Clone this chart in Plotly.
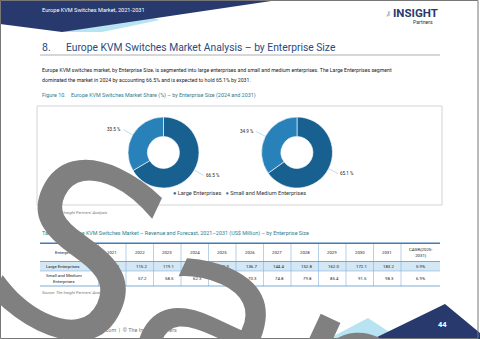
import math
import plotly.graph_objects as go

W, H = 480, 339

# ---------------- data ----------------
segments = ["Large Enterprises", "Small and Medium Enterprises"]
share_2024 = [66.5, 33.5]
share_2031 = [65.1, 34.9]
seg_colors = ["#18608F", "#2882B9"]

years = ["2021", "2022", "2023", "2024", "2025", "2026", "2027", "2028", "2029", "2030", "2031"]
large_rev = [112.3, 115.2, 119.1, 123.7, 129.9, 136.7, 144.4, 152.8, 162.0, 172.1, 183.2]
sme_rev = [55.9, 57.2, 58.5, 62.3, 65.9, 70.3, 74.8, 79.8, 85.4, 91.5, 98.3]
cagr = ["5.9%", "6.9%"]
row_labels = ["Large Enterprises", "Small and Medium<br>Enterprises"]


def X(p):
    return p / W


def Y(p):
    return 1 - p / H


fig = go.Figure()
shapes = []
ann = []


def text(x, y, s, size, color="#222222", family="Roboto", anchor="left", **kw):
    ann.append(dict(x=X(x), y=Y(y), xref="paper", yref="paper", text=s, showarrow=False,
                    xanchor=anchor, yanchor="middle",
                    font=dict(size=size, color=color, family=family), **kw))


def poly(pts, color):
    d = "M " + " L ".join(f"{X(a):.5f},{Y(b):.5f}" for a, b in pts) + " Z"
    shapes.append(dict(type="path", path=d, xref="paper", yref="paper",
                       fillcolor=color, line=dict(width=0), layer="below"))


def hline(x0, x1, y, color, width):
    shapes.append(dict(type="line", xref="paper", yref="paper", x0=X(x0), x1=X(x1), y0=Y(y), y1=Y(y),
                       line=dict(color=color, width=width)))


def vline(x, y0, y1, color, width):
    shapes.append(dict(type="line", xref="paper", yref="paper", x0=X(x), x1=X(x), y0=Y(y0), y1=Y(y1),
                       line=dict(color=color, width=width)))


# header graphics
poly([(60, 32), (102, 32), (160, 20), (150, 17)], "#B7E3F2")
poly([(0, 0), (278, 0), (62, 32), (0, 24)], "#283A6D")
text(40, 10, "Europe KVM Switches Market, 2021-2031", 5.6, "#FFFFFF")

# logo
text(389, 14, "The", 3.6, "#283A6D", textangle=-90, anchor="center")
text(391, 13, "<b>INSIGHT</b>", 11.5, "#283A6D", family="Roboto")
text(411, 21.5, "Partners", 5.2, "#333333")

# heading
text(40, 47, "8.", 10.5, "#2A4A80")
text(64, 47, "Europe KVM Switches Market Analysis – by Enterprise Size", 10.3, "#2A4A80")
hline(40, 440, 55, "#9A9A9A", 0.8)

text(40, 70, "Europe KVM switches market, by Enterprise Size, is segmented into large enterprises and small and medium enterprises. The Large Enterprises segment",
     5.2, "#222222")
text(40, 79.5, "dominated the market in 2024 by accounting 66.5% and is expected to hold 65.1% by 2031.", 5.2, "#222222")

text(40, 95, "Figure 10.    Europe KVM Switches Market Share (%) – by Enterprise Size (2024 and 2031)", 5.4, "#2E7D91")

# chart box
shapes.append(dict(type="rect", xref="paper", yref="paper", x0=X(37), x1=X(442), y0=Y(205), y1=Y(106),
                   line=dict(color="#D4D4D4", width=1), fillcolor="rgba(0,0,0,0)", layer="below"))

# donuts
R = 35.5
donuts = [(163.5, 152.5, share_2024), (297.0, 152.5, share_2031)]
for cx, cy, vals in donuts:
    fig.add_trace(go.Pie(labels=segments, values=vals, hole=0.45, sort=False, direction="clockwise",
                         rotation=0, marker=dict(colors=seg_colors, line=dict(color="#FFFFFF", width=0.6)),
                         textinfo="none", hoverinfo="label+value", showlegend=False,
                         domain=dict(x=[X(cx - R), X(cx + R)], y=[Y(cy + R), Y(cy - R)])))
    tot = sum(vals)
    acc = 0
    for v in vals:
        mid = (acc + v / 2) / tot * 2 * math.pi
        acc += v
        sx, sy = math.sin(mid), -math.cos(mid)
        hx, hy = cx + R * 1.0 * sx, cy + R * 1.0 * sy
        tx, ty = cx + R * 1.3 * sx, cy + R * 1.3 * sy
        ann.append(dict(x=X(hx), y=Y(hy), xref="paper", yref="paper", text=f"{v:.1f} %",
                        showarrow=True, arrowhead=0, arrowwidth=0.5, arrowcolor="#7FB6DD",
                        ax=tx - hx, ay=ty - hy, xanchor="right" if sx < 0 else "left", yanchor="middle",
                        font=dict(size=4.6, color="#222222", family="Roboto")))

legend_txt = (f"<span style='color:{seg_colors[0]}'>●</span> {segments[0]}   "
              f"<span style='color:{seg_colors[1]}'>●</span> {segments[1]}")
text(170.5, 193, legend_txt, 5.6, "#333333")

text(40, 212.5, "<i>Source: The Insight Partners' Analysis</i>", 4.0, "#777777")

text(40, 233, "Table 59.   Europe KVM Switches Market – Revenue and Forecast, 2021–2031 (US$ Million) – by Enterprise Size",
     5.4, "#2E7D91")

# ---------------- table (grid built from the data arrays) ----------------
tx0 = 40.0
col_w = [58.5] + [27.5] * len(years) + [39.0]
edges = [tx0]
for w_ in col_w:
    edges.append(edges[-1] + w_)
row_y = [243.3, 261.5, 271.0, 286.0]   # header top, header bottom, row1 bottom, row2 bottom
line_c = "#86B3DC"
shapes.append(dict(type="rect", xref="paper", yref="paper", x0=X(edges[0]), x1=X(edges[-1]),
                   y0=Y(row_y[2]), y1=Y(row_y[1]), fillcolor="#D3E7F5", line=dict(width=0), layer="below"))
for e in edges[1:-1]:
    vline(e, row_y[0], row_y[3], line_c, 0.6)
hline(edges[0], edges[-1], row_y[1], "#5E95C9", 0.8)
hline(edges[0], edges[-1], row_y[2], line_c, 0.6)
hline(edges[0], edges[-1], row_y[3], "#5E95C9", 0.8)
hline(edges[0], edges[-1], row_y[0], "#3E7CB8", 1.4)

tf = 4.3
header = ["Enterprise Size"] + years + ["CAGR(2025-<br>2031)"]
hy = (row_y[0] + row_y[1]) / 2
for i, h in enumerate(header):
    text((edges[i] + edges[i + 1]) / 2, hy, h, tf, "#222222", anchor="center")
rows = [large_rev, sme_rev]
for r in range(2):
    ymid = (row_y[r + 1] + row_y[r + 2]) / 2
    text(edges[0] + 4, ymid, row_labels[r], tf, "#222222", anchor="left")
    for i, v in enumerate(rows[r]):
        text(edges[i + 2] - 5, ymid, f"{v:.1f}", tf, "#222222", anchor="right")
    text((edges[-2] + edges[-1]) / 2, ymid, cagr[r], tf, "#222222", anchor="center")

text(40, 292.5, "<i>Source: The Insight Partners' Analysis</i>", 4.0, "#777777")

# footer
text(45, 330, "www.theinsightpartners.com  |  © The Insight Partners", 5.4, "#777777")
poly([(328, 339), (368, 318), (400, 339)], "#B7E3F2")
poly([(373, 339), (445, 304), (480, 333), (480, 339)], "#283A6D")
text(442, 324, "<b>44</b>", 7.5, "#FFFFFF", anchor="center")

# page border
shapes.append(dict(type="rect", xref="paper", yref="paper", x0=X(0.5), x1=X(478), y0=Y(338.5), y1=Y(0.5),
                   line=dict(color="#777777", width=1), fillcolor="rgba(0,0,0,0)", layer="above"))

# watermark
ann.append(dict(x=X(417), y=Y(412), xref="paper", yref="paper", text="Sample", showarrow=False,
                textangle=25, font=dict(size=240, color="#808080", family="DejaVu Sans"),
                xanchor="center", yanchor="middle"))

fig.update_layout(width=W, height=H, margin=dict(l=0, r=0, t=0, b=0),
                  paper_bgcolor="#FFFFFF", plot_bgcolor="#FFFFFF",
                  shapes=shapes, annotations=ann, showlegend=False)
fig.write_html("out.html")
